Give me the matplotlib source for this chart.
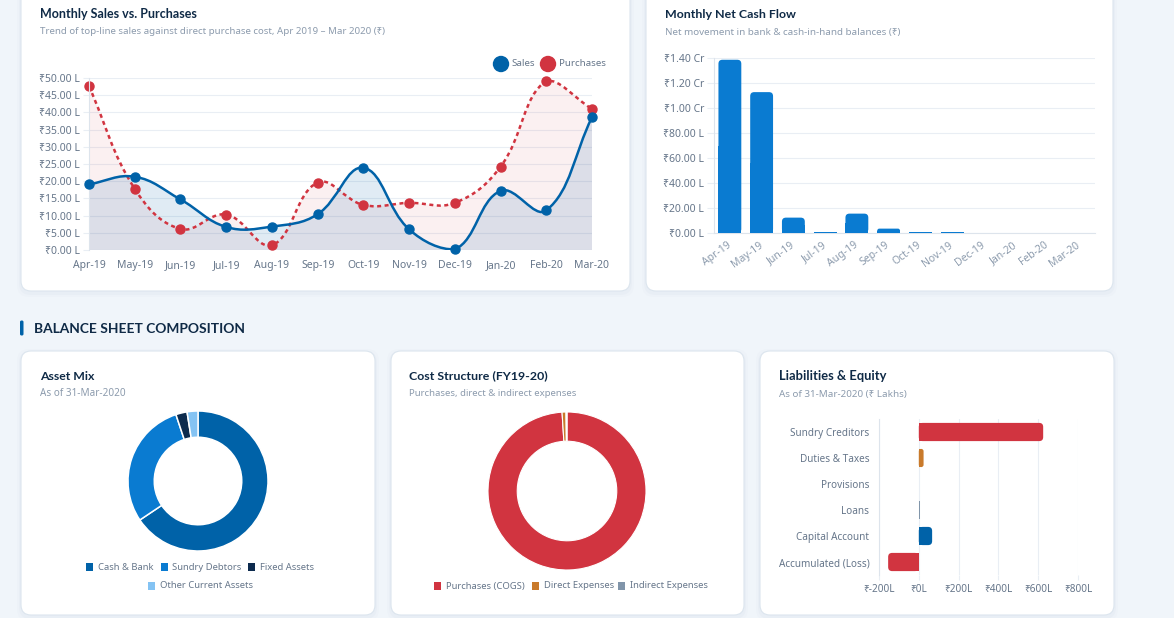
import matplotlib
matplotlib.use('Agg')
import matplotlib.pyplot as plt
from matplotlib.patches import FancyBboxPatch, Rectangle, Circle, PathPatch
from matplotlib.path import Path
import numpy as np

plt.rcParams['font.family'] = ['Noto Sans', 'DejaVu Sans']
BOLD_FONT = ['Lato', 'DejaVu Sans']

# ---- values (₹ lakhs unless noted) ----
months = ['Apr-19', 'May-19', 'Jun-19', 'Jul-19', 'Aug-19', 'Sep-19',
          'Oct-19', 'Nov-19', 'Dec-19', 'Jan-20', 'Feb-20', 'Mar-20']
sales = [19.1, 21.3, 14.7, 6.7, 6.8, 10.4, 23.9, 6.0, 0.2, 17.2, 11.5, 38.6]
purchases = [47.6, 17.8, 6.1, 10.3, 1.4, 19.6, 13.1, 13.7, 13.7, 24.2, 49.1, 41.0]
net_cash = [138.6, 112.7, 12.3, 1.0, 15.5, 3.5, 0.6, 0.5, 0.3, 0.0, 0.0, 0.0]

asset_labels = ['Cash & Bank', 'Sundry Debtors', 'Fixed Assets', 'Other Current Assets']
asset_share = [65.6, 29.3, 2.6, 2.5]
cost_labels = ['Purchases (COGS)', 'Direct Expenses', 'Indirect Expenses']
cost_share = [99.0, 0.8, 0.2]
liab_labels = ['Sundry Creditors', 'Duties & Taxes', 'Provisions', 'Loans',
               'Capital Account', 'Accumulated (Loss)']
liab_values = [625, 24, 0, 6, 67, -154]

# ---- colours ----
BLUE = '#0062a8'
BRIGHT = '#0a7bd1'
NAVY = '#0d2b4e'
SKY = '#84c3f3'
RED = '#d13440'
ORANGE = '#c97a2b'
SLATE = '#8195aa'
GRID = '#e9eef4'
AXIS = '#dde4ec'
TICK = '#66768a'
TITLE = '#0f2a46'
SUB = '#8c9bad'
TICK_FS = 7.5

W, H = 1174, 618
fig = plt.figure(figsize=(W / 100, H / 100), dpi=100)
fig.patch.set_facecolor('#f0f5fa')
bg = fig.add_axes([0, 0, 1, 1])
bg.set_xlim(0, W)
bg.set_ylim(H, 0)
bg.axis('off')
renderer = fig.canvas.get_renderer()


def px_axes(x0, y0, x1, y1):
    ax = fig.add_axes([x0 / W, 1 - y1 / H, (x1 - x0) / W, (y1 - y0) / H])
    ax.set_facecolor('none')
    for s in ax.spines.values():
        s.set_visible(False)
    return ax


def card(x0, y0, x1, y1):
    for grow, a in [(4, 0.025), (2, 0.04)]:
        bg.add_patch(FancyBboxPatch((x0 - grow, y0 - grow + 2), x1 - x0 + 2 * grow, y1 - y0 + 2 * grow,
                                    boxstyle='round,pad=0,rounding_size=12', fc='#7d93ad', ec='none', alpha=a))
    bg.add_patch(FancyBboxPatch((x0, y0), x1 - x0, y1 - y0, boxstyle='round,pad=0,rounding_size=10',
                                fc='white', ec='#dce5ee', lw=0.8))


def fit_text(x, y, s, width, **kw):
    t = bg.text(x, y, s, va='center', ha='left', **kw)
    bb = t.get_window_extent(renderer)
    t.set_fontsize(t.get_fontsize() * width / bb.width)
    return t


def heading(x, y, title, sub, w_title, w_sub):
    fit_text(x, y, title, w_title, fontsize=9.5, fontweight='bold', family=BOLD_FONT, color=TITLE)
    fit_text(x, y + 18, sub, w_sub, fontsize=7, color=SUB)


def spline(ax, xs, ys, tension=0.4):
    # Chart.js style bezier spline, control points capped to the plot area
    pts = ax.transData.transform(np.column_stack([xs, ys]))
    box = ax.bbox
    n = len(pts)
    cps = []
    for i in range(n):
        p1 = pts[i]
        p0 = pts[i - 1] if i > 0 else p1
        p2 = pts[i + 1] if i < n - 1 else p1
        d01 = np.hypot(*(p1 - p0))
        d12 = np.hypot(*(p2 - p1))
        tot = d01 + d12
        fa = tension * (d01 / tot if tot else 0)
        fb = tension * (d12 / tot if tot else 0)
        prev = p1 - fa * (p2 - p0)
        nxt = p1 + fb * (p2 - p0)
        for c in (prev, nxt):
            c[0] = min(max(c[0], box.x0), box.x1)
            c[1] = min(max(c[1], box.y0), box.y1)
        cps.append((prev, nxt))
    verts = [pts[0]]
    codes = [Path.MOVETO]
    for i in range(n - 1):
        verts += [cps[i][1], cps[i + 1][0], pts[i + 1]]
        codes += [Path.CURVE4] * 3
    return list(ax.transData.inverted().transform(verts)), codes


def rbar(ax, x0, y0, w, h, color, r, sx, sy, base):
    # rounded bar; sx, sy = pixels per data unit; base = side that stays square
    xa, wa = (x0, w) if w >= 0 else (x0 + w, -w)
    ya, ha = (y0, h) if h >= 0 else (y0 + h, -h)
    wp, hp = wa * sx, ha * sy
    if wp < 1.5 or hp < 1.5:
        ax.add_patch(Rectangle((xa, ya), wa, ha, fc=color, ec='none', zorder=3))
        return
    r = min(r, wp / 2, hp / 2)
    ax.add_patch(FancyBboxPatch((xa, ya), wa, ha, boxstyle=f'round,pad=0,rounding_size={r / sx}',
                                mutation_aspect=sx / sy, fc=color, ec='none', zorder=3))
    if base == 'bottom':
        sq = Rectangle((xa, ya), wa, ha / 2)
    elif base == 'left':
        sq = Rectangle((xa, ya), wa / 2, ha)
    else:
        sq = Rectangle((xa + wa / 2, ya), wa / 2, ha)
    sq.set_facecolor(color)
    sq.set_edgecolor('none')
    sq.set_zorder(3)
    ax.add_patch(sq)


# ---- cards & headings ----
card(21, -20, 630, 291)
card(646, -20, 1113, 291)
card(21, 351, 375, 615)
card(391, 351, 744, 615)
card(760, 351, 1114, 615)

heading(40, 14, 'Monthly Sales vs. Purchases',
        'Trend of top-line sales against direct purchase cost, Apr 2019 \u2013 Mar 2020 (\u20b9)', 158, 346)
heading(665, 14, 'Monthly Net Cash Flow', 'Net movement in bank & cash-in-hand balances (\u20b9)', 132, 235)
heading(40, 376, 'Asset Mix', 'As of 31-Mar-2020', 55, 85)
heading(409, 376, 'Cost Structure (FY19-20)', 'Purchases, direct & indirect expenses', 139, 168)
heading(779, 376, 'Liabilities & Equity', 'As of 31-Mar-2020 (\u20b9 Lakhs)', 107, 128)

bg.add_patch(FancyBboxPatch((20, 320.5), 3.5, 15, boxstyle='round,pad=0,rounding_size=1.5', fc=BLUE, ec='none'))
fit_text(34, 329, 'BALANCE SHEET COMPOSITION', 210, fontsize=10, fontweight='bold', family=BOLD_FONT, color=TITLE)

# ---- Monthly Sales vs. Purchases ----
ax1 = px_axes(89, 78, 592, 250)
xs = np.arange(len(months))
ax1.set_xlim(0, len(months) - 1)
ax1.set_ylim(0, 50)
yt = np.arange(0, 51, 5)
ax1.set_yticks(yt, [f'\u20b9{v:.2f} L' for v in yt])
ax1.set_xticks(xs, months)
ax1.grid(axis='y', color=GRID, lw=0.8)
ax1.set_axisbelow(True)
ax1.spines['left'].set_visible(True)
ax1.spines['left'].set_color(AXIS)
ax1.tick_params(axis='y', length=4.5, color=GRID, pad=2.2, labelcolor=TICK, labelsize=TICK_FS)
ax1.tick_params(axis='x', length=0, pad=7, labelcolor=TICK, labelsize=TICK_FS)

series = [(purchases, RED, 0.07, (0, (1.6, 1.4))), (sales, BLUE, 0.12, '-')]
for i, (vals, col, alpha, ls) in enumerate(series):
    verts, codes = spline(ax1, xs, vals)
    fv = verts + [(xs[-1], 0), (xs[0], 0), (xs[0], 0)]
    fc = codes + [Path.LINETO, Path.LINETO, Path.CLOSEPOLY]
    ax1.add_patch(PathPatch(Path(fv, fc), fc=col, alpha=alpha, lw=0, zorder=1))
    ax1.add_patch(PathPatch(Path(verts, codes), fill=False, ec=col, lw=1.8, ls=ls, zorder=2 + i))
    ax1.plot(xs, vals, 'o', ms=6.5, color=col, mec=col, zorder=2.5 + i, clip_on=False)

for cx, col, name in [(501, BLUE, 'Sales'), (548, RED, 'Purchases')]:
    bg.add_patch(Circle((cx, 64), 8.2, fc=col, ec='none'))
    bg.text(cx + 10.5, 64, name, va='center', ha='left', fontsize=7, color=TICK)

# ---- Monthly Net Cash Flow ----
ax2 = px_axes(714, 58, 1095, 233)
ax2.set_xlim(-0.5, len(months) - 0.5)
ax2.set_ylim(0, 140)
sx2 = (1095 - 714) / len(months)
sy2 = (233 - 58) / 140
for i, v in enumerate(net_cash):
    rbar(ax2, i - 0.36, 0, 0.72, v, BRIGHT, 4, sx2, sy2, 'bottom')
yt2 = np.arange(0, 141, 20)
ax2.set_yticks(yt2, [f'\u20b9{v / 100:.2f} Cr' if v >= 100 else f'\u20b9{v:.2f} L' for v in yt2])
ax2.set_xticks(range(len(months)), months, rotation=36, ha='right', va='center', rotation_mode='anchor')
ax2.grid(axis='y', color=GRID, lw=0.8)
ax2.set_axisbelow(True)
ax2.spines['left'].set_visible(True)
ax2.spines['left'].set_color(AXIS)
ax2.spines['bottom'].set_visible(True)
ax2.spines['bottom'].set_color(AXIS)
ax2.tick_params(axis='y', length=5, color=GRID, pad=2.2, labelcolor=TICK, labelsize=TICK_FS)
ax2.tick_params(axis='x', length=0, pad=8, labelcolor=SUB, labelsize=TICK_FS)

# ---- Asset Mix donut ----
ax4 = px_axes(128, 411, 268, 551)
ax4.pie(asset_share, colors=[BLUE, BRIGHT, NAVY, SKY], startangle=90, counterclock=False, radius=1,
        wedgeprops=dict(width=0.375, edgecolor='white', linewidth=1.1))
ax4.set_xlim(-1, 1)
ax4.set_ylim(-1, 1)

legend1 = [(86, 567), (161, 567), (248, 567), (148, 586)]
for (lx, ly), name, col in zip(legend1, asset_labels, [BLUE, BRIGHT, NAVY, SKY]):
    bg.add_patch(Rectangle((lx, ly - 4), 6.5, 7.5, fc=col, ec='none'))
    bg.text(lx + 11.5, ly, name, va='center', ha='left', fontsize=6.8, color=TICK)

# ---- Cost Structure donut ----
ax5 = px_axes(488, 412, 646, 570)
ax5.pie(cost_share, colors=[RED, ORANGE, SLATE], startangle=90, counterclock=False, radius=1,
        wedgeprops=dict(width=0.37, edgecolor='white', linewidth=0.8))
ax5.set_xlim(-1, 1)
ax5.set_ylim(-1, 1)

legend2 = [434, 532, 618]
for lx, name, col in zip(legend2, cost_labels, [RED, ORANGE, SLATE]):
    bg.add_patch(Rectangle((lx, 582), 6.5, 7.5, fc=col, ec='none'))
    bg.text(lx + 11.5, 586, name, va='center', ha='left', fontsize=6.8, color=TICK)

# ---- Liabilities & Equity ----
ax3 = px_axes(879, 419, 1078, 575)
ax3.set_xlim(-200, 800)
ax3.set_ylim(len(liab_labels) - 0.5, -0.5)
sx3 = (1078 - 879) / 1000
sy3 = (575 - 419) / len(liab_labels)
liab_colors = [RED, ORANGE, '#5b8f6a', SLATE, BLUE, RED]
for i, (v, col) in enumerate(zip(liab_values, liab_colors)):
    rbar(ax3, 0, i - 0.35, v, 0.7, col, 4, sx3, sy3, 'left' if v >= 0 else 'right')
xt3 = np.arange(-200, 801, 200)
ax3.set_xticks(xt3, [f'\u20b9{v}L' for v in xt3])
ax3.set_yticks(range(len(liab_labels)), liab_labels)
ax3.grid(axis='x', color=GRID, lw=0.8)
ax3.set_axisbelow(True)
ax3.spines['left'].set_visible(True)
ax3.spines['left'].set_color(AXIS)
ax3.tick_params(axis='x', length=3.6, color=GRID, pad=3, labelcolor=TICK, labelsize=7.2)
ax3.tick_params(axis='y', length=0, pad=7, labelcolor=TICK, labelsize=7.2)

fig.savefig('out.png', dpi=100, facecolor=fig.get_facecolor())
